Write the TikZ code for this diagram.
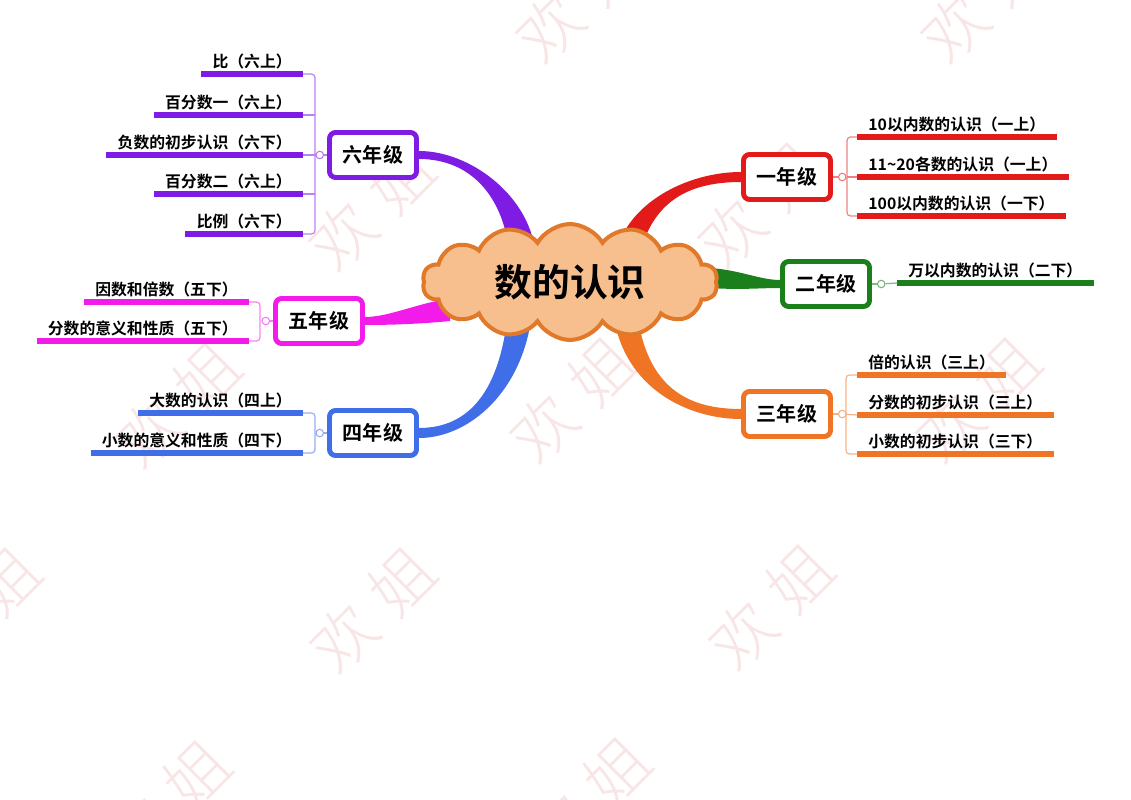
\documentclass[tikz,border=0pt]{standalone}
\usepackage{fontspec}
\setmainfont{Noto Sans CJK SC}[BoldFont={Noto Sans CJK SC Bold}]
\newfontfamily\wmfont{Noto Sans CJK SC Light}
\usepackage{xcolor}
\usetikzlibrary{shapes.symbols,positioning,calc,backgrounds}

\definecolor{gRed}{HTML}{E31A1A}
\definecolor{gGreen}{HTML}{1B7F1B}
\definecolor{gOrange}{HTML}{EF7424}
\definecolor{gBlue}{HTML}{3F6EE8}
\definecolor{gPink}{HTML}{F21BEA}
\definecolor{gPurple}{HTML}{7E1CE3}
\definecolor{cloudFill}{HTML}{F8BF8E}
\definecolor{cloudLine}{HTML}{E07A2A}
\definecolor{wmPink}{HTML}{F8E6E6}

% tapered limb: colour, start, control 1, control 2, end, half width at start, half width at end
\newcommand{\limb}[7]{%
  \fill[#1] ($#2+#6$) .. controls ($#3+#6$) and ($#4+#7$) .. ($#5+#7$)
    -- ($#5-#7$) .. controls ($#4-#7$) and ($#3-#6$) .. ($#2-#6$) -- cycle;}

\begin{document}
\begin{tikzpicture}[
    x=0.02cm, y=-0.02cm,
    grade/.style={rectangle, draw=#1, line width=2.8pt, rounded corners=3.5pt, fill=white,
        minimum width=1.74cm, minimum height=0.9cm, font=\bfseries\fontsize{11.4}{13}\selectfont},
    topic/.style={inner xsep=0.22cm, inner ysep=0.1cm, font=\bfseries\fontsize{9}{10}\selectfont,
        append after command={(\tikzlastnode.south west) edge[draw=#1, line width=3.4pt] (\tikzlastnode.south east)}},
    knot/.style={circle, draw=#1, fill=white, line width=0.6pt, minimum size=0.15cm, inner sep=0pt},
    twig/.style={draw=#1, line width=0.7pt, rounded corners=2pt},
    stamp/.style={text=wmPink, rotate=45, inner sep=0pt, font=\wmfont\fontsize{36}{36}\selectfont}
]
\useasboundingbox (0,0) rectangle (1131,800);

% Centre
\node[cloud, cloud puffs=14, cloud puff arc=120, aspect=2.6, draw=cloudLine, line width=2.3pt,
    fill=cloudFill, minimum width=5.9cm, minimum height=2.2cm,
    font=\bfseries\fontsize{21.5}{24}\selectfont] (root) at (570,282) {数的认识};

% Grades
\node[grade=gRed] (one) at (787,177) {一年级};
\node[grade=gGreen] (two) at (826,284) {二年级};
\node[grade=gOrange] (three) at (787,414) {三年级};
\node[grade=gBlue] (four) at (373,433) {四年级};
\node[grade=gPink] (five) at (319,321) {五年级};
\node[grade=gPurple] (six) at (373,155) {六年级};

% Knots
\node[knot=gRed!60, right=0.1cm of one] (k1) {};
\node[knot=gGreen!60, right=0.1cm of two] (k2) {};
\node[knot=gOrange!60, right=0.1cm of three] (k3) {};
\node[knot=gBlue!60, left=0.06cm of four] (k4) {};
\node[knot=gPink!60, left=0.06cm of five] (k5) {};
\node[knot=gPurple!60, left=0.06cm of six] (k6) {};

% Grade one
\node[topic=gRed, anchor=south west] (t11) at (857,137) {10以内数的认识（一上）};
\node[topic=gRed, anchor=south west] (t12) at (857,177) {11\textasciitilde20各数的认识（一上）};
\node[topic=gRed, anchor=south west] (t13) at (857,216) {100以内数的认识（一下）};
\draw[twig=gRed!55] (t11.south west) -- ++(-10,0) |- (t13.south west);
\draw[twig=gRed!55] (t12.south west) -- (k1);
\draw[twig=gRed!55] (k1) -- (one);

% Grade two
\node[topic=gGreen, anchor=south west] (t21) at (897,283) {万以内数的认识（二下）};
\draw[twig=gGreen!55] (k2) -- (t21.south west);
\draw[twig=gGreen!55] (k2) -- (two);

% Grade three
\node[topic=gOrange, anchor=south west] (t31) at (857,375) {倍的认识（三上）};
\node[topic=gOrange, anchor=south west] (t32) at (857,415) {分数的初步认识（三上）};
\node[topic=gOrange, anchor=south west] (t33) at (857,454) {小数的初步认识（三下）};
\draw[twig=gOrange!55] (t31.south west) -- ++(-11,0) |- (t33.south west);
\draw[twig=gOrange!55] (t32.south west) -- (k3);
\draw[twig=gOrange!55] (k3) -- (three);

% Grade four
\node[topic=gBlue, anchor=south east] (t41) at (303,413) {大数的认识（四上）};
\node[topic=gBlue, anchor=south east] (t42) at (303,453) {小数的意义和性质（四下）};
\draw[twig=gBlue!55] (t41.south east) -- ++(12,0) |- (t42.south east);
\draw[twig=gBlue!55] (k4) -- (four);

% Grade five
\node[topic=gPink, anchor=south east] (t51) at (249,302) {因数和倍数（五下）};
\node[topic=gPink, anchor=south east] (t52) at (249,341) {分数的意义和性质（五下）};
\draw[twig=gPink!55] (t51.south east) -- ++(11,0) |- (t52.south east);
\draw[twig=gPink!55] (k5) -- (five);

% Grade six
\node[topic=gPurple, anchor=south east] (t61) at (303,74) {比（六上）};
\node[topic=gPurple, anchor=south east] (t62) at (303,115) {百分数一（六上）};
\node[topic=gPurple, anchor=south east] (t63) at (303,155) {负数的初步认识（六下）};
\node[topic=gPurple, anchor=south east] (t64) at (303,194) {百分数二（六上）};
\node[topic=gPurple, anchor=south east] (t65) at (303,234) {比例（六下）};
\draw[twig=gPurple!55] (t61.south east) -- ++(12,0) |- (t65.south east);
\draw[twig=gPurple!55] (t62.south east) -- ++(12,0);
\draw[twig=gPurple!55] (t63.south east) -- (k6);
\draw[twig=gPurple!55] (t64.south east) -- ++(12,0);
\draw[twig=gPurple!55] (k6) -- (six);

\begin{scope}[on background layer]
% Watermarks
\node[stamp] (w1) at (579,0) {欢\hspace{0.28em}姐};
\node[stamp] (w2) at (983,0) {欢\hspace{0.28em}姐};
\node[stamp] (w3) at (372,208) {欢\hspace{0.28em}姐};
\node[stamp] (w4) at (760,205) {欢\hspace{0.28em}姐};
\node[stamp] (w5) at (178,405) {欢\hspace{0.28em}姐};
\node[stamp] (w6) at (573,400) {欢\hspace{0.28em}姐};
\node[stamp] (w7) at (978,400) {欢\hspace{0.28em}姐};
\node[stamp] (w8) at (-22,610) {欢\hspace{0.28em}姐};
\node[stamp] (w9) at (373,610) {欢\hspace{0.28em}姐};
\node[stamp] (w10) at (771,607) {欢\hspace{0.28em}姐};
\node[stamp] (w11) at (168,803) {欢\hspace{0.28em}姐};
\node[stamp] (w12) at (588,800) {欢\hspace{0.28em}姐};

% Limbs
\limb{gRed}{(root)+(60,-36)}{(645,200)}{(690,177)}{(one.west)}{(12,0)}{(0,5)}
\limb{gGreen}{(root)+(140,-4)}{(740,280)}{(760,284)}{(two.west)}{(0,10)}{(0,4)}
\limb{gOrange}{(root)+(55,30)}{(635,390)}{(690,414)}{(three.west)}{(12,0)}{(0,-5)}
\limb{gBlue}{(root)+(-50,30)}{(512,390)}{(470,433)}{(four.east)}{(12,0)}{(0,5)}
\limb{gPink}{(root)+(-120,28)}{(420,313)}{(390,321)}{(five.east)}{(0,11)}{(0,4)}
\limb{gPurple}{(root)+(-48,-32)}{(515,195)}{(470,155)}{(six.east)}{(13,0)}{(0,-4)}
\end{scope}

\end{tikzpicture}
\end{document}
